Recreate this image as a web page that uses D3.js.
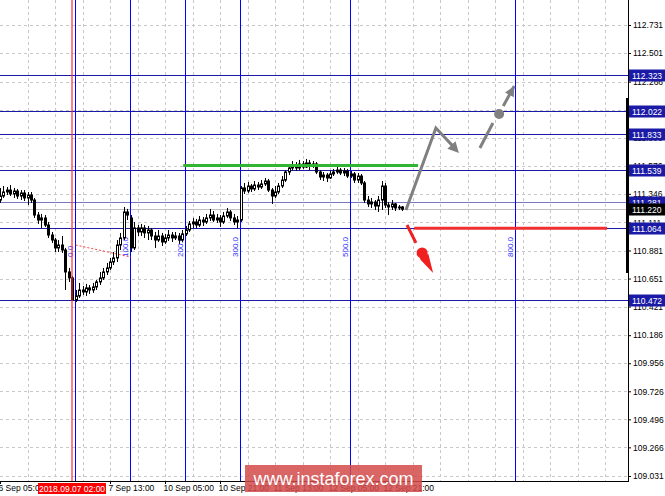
<!DOCTYPE html>
<html><head><meta charset="utf-8">
<script src="https://cdn.jsdelivr.net/npm/d3@7"></script>
<style>body{margin:0;background:#fff}svg{display:block}text{font-family:"Liberation Sans",Arial,sans-serif}</style>
</head><body><svg id="c" width="665" height="496"></svg>
<script>
// ---- data (USD/JPY H1) ----
const open = [111.295,111.328,111.361,111.377,111.345,111.369,111.328,111.353,111.312,111.336,
111.295,111.172,111.131,111.148,111.090,111.008,110.967,110.902,110.926,110.885,
110.705,110.656,110.475,110.508,110.557,110.541,110.574,110.557,110.582,110.623,
110.656,110.705,110.738,110.787,110.820,110.926,110.984,111.197,111.148,110.902,
111.066,111.033,111.066,111.025,111.049,111.000,110.967,111.000,110.951,110.984,
111.008,110.984,111.000,110.967,111.017,111.049,111.099,111.115,111.090,111.131,
111.115,111.148,111.172,111.131,111.148,111.115,111.164,111.197,111.148,111.115,
111.131,111.394,111.369,111.410,111.386,111.418,111.402,111.427,111.451,111.377,
111.328,111.361,111.410,111.459,111.525,111.558,111.583,111.558,111.591,111.566,
111.599,111.574,111.591,111.525,111.484,111.500,111.476,111.509,111.525,111.541,
111.517,111.533,111.492,111.509,111.459,111.492,111.435,111.295,111.263,111.279,
111.246,111.295,111.410,111.254,111.238,111.263,111.230,111.238];
const high = [111.394,111.410,111.402,111.418,111.394,111.386,111.377,111.377,111.361,111.361,
111.312,111.197,111.181,111.172,111.115,111.033,110.984,110.967,111.000,110.902,
110.738,110.672,110.557,110.615,110.590,110.607,110.598,110.615,110.639,110.705,
110.738,110.779,110.820,110.869,110.967,111.025,111.238,111.222,111.172,111.115,
111.090,111.099,111.090,111.082,111.066,111.033,111.049,111.025,111.017,111.049,
111.033,111.033,111.025,111.049,111.082,111.123,111.148,111.140,111.164,111.156,
111.181,111.222,111.205,111.181,111.172,111.197,111.230,111.213,111.181,111.164,
111.410,111.435,111.443,111.427,111.451,111.443,111.459,111.476,111.468,111.394,
111.410,111.435,111.492,111.541,111.591,111.615,111.607,111.624,111.615,111.632,
111.624,111.615,111.607,111.541,111.525,111.517,111.533,111.550,111.574,111.558,
111.558,111.550,111.533,111.525,111.517,111.509,111.451,111.328,111.312,111.295,
111.328,111.451,111.435,111.279,111.295,111.271,111.254,111.246];
const low = [111.271,111.312,111.336,111.328,111.312,111.304,111.295,111.287,111.254,111.271,
111.148,111.099,111.066,111.074,110.984,110.943,110.869,110.869,110.861,110.557,
110.623,110.467,110.459,110.492,110.516,110.508,110.525,110.533,110.557,110.598,
110.639,110.680,110.721,110.762,110.787,110.885,110.967,111.131,110.869,110.885,
111.000,111.000,110.984,110.967,110.967,110.902,110.951,110.918,110.935,110.959,
110.951,110.967,110.935,110.951,111.000,111.033,111.066,111.066,111.074,111.082,
111.099,111.123,111.115,111.107,111.074,111.099,111.148,111.123,111.090,111.066,
111.115,111.345,111.353,111.361,111.369,111.377,111.386,111.410,111.361,111.263,
111.312,111.345,111.394,111.443,111.500,111.541,111.533,111.541,111.550,111.558,
111.541,111.558,111.509,111.459,111.451,111.443,111.468,111.492,111.509,111.500,
111.492,111.476,111.476,111.435,111.435,111.418,111.271,111.238,111.230,111.213,
111.197,111.213,111.230,111.172,111.213,111.205,111.213,111.205];
const close = [111.328,111.361,111.377,111.345,111.369,111.328,111.353,111.312,111.336,111.295,
111.172,111.131,111.148,111.090,111.008,110.967,110.902,110.926,110.885,110.705,
110.656,110.475,110.508,110.557,110.541,110.574,110.557,110.582,110.623,110.656,
110.705,110.738,110.787,110.820,110.926,110.984,111.197,111.172,110.902,111.066,
111.033,111.066,111.025,111.049,111.000,110.967,111.000,110.951,110.984,111.008,
110.984,111.000,110.967,111.017,111.049,111.099,111.115,111.090,111.131,111.115,
111.148,111.172,111.131,111.148,111.115,111.164,111.197,111.148,111.115,111.131,
111.394,111.369,111.410,111.386,111.418,111.402,111.427,111.451,111.377,111.328,
111.361,111.410,111.459,111.525,111.558,111.583,111.558,111.591,111.566,111.599,
111.574,111.591,111.525,111.484,111.500,111.476,111.509,111.525,111.541,111.517,
111.533,111.492,111.509,111.459,111.492,111.435,111.295,111.263,111.279,111.246,
111.295,111.410,111.254,111.238,111.263,111.230,111.238,111.220];

const priceTicks = [112.731,112.501,112.266,112.036,111.806,111.576,111.346,111.111,110.881,
110.651,110.421,110.186,109.956,109.726,109.496,109.266,109.031];
const timeTickBars = [0,32,48,64,80,96,112];
const timeTickLabels = ["6 Sep 05:00","7 Sep 13:00","10 Sep 05:00","10 Sep 21:00","11 Sep 13:00","12 Sep 05:00","12 Sep 21:00"];
const markedBar = 21, markedLabel = "2018.09.07 02:00";
const levels = [112.323,112.022,111.833,111.539,111.064,110.472];
const pivotLevel = 111.281;
const bidLevel = 111.220;
const fibBars = [22,38,54,70,102,150];
const fibLabels = ["0.0","100.0","200.0","300.0","500.0","800.0"];
const fibBase = [[22,110.926],[38,110.828]];
const greenLevel = {value:111.578, from:53.3, to:121.6};
const redLevel = {value:111.064, from:120.5, to:176.6};
const grayPath = [[118.1,111.213],[126.8,111.886],[133.5,111.681]];
const grayDash1 = [[139.6,111.722],[143.4,111.927]];
const grayDot = [145.2,112.001];
const grayDash2 = [[146.4,112.066],[149.6,112.230]];
const redPath = [[118.4,111.090],[121.0,110.943]];
const redDot = [122.8,110.861];
const redTip = [126.0,110.697];
const watermark = "www.instaforex.com";

// ---- scales ----
const svg = d3.select("#c");
const plotR = 628, plotB = 481;
const x = d3.scaleLinear().domain([0,16]).range([0,55]);
const y = d3.scaleLinear().domain([109.031,112.731]).range([476,25]);
const navy = "#1a1aa6";

// grid
const g = svg.append("g");
g.selectAll(".vg").data(d3.range(8,183,8)).join("line")
  .attr("x1",d=>Math.round(x(d))+0.5).attr("x2",d=>Math.round(x(d))+0.5)
  .attr("y1",0).attr("y2",plotB).attr("stroke","#c8c8c8").attr("stroke-dasharray","3,3");
g.selectAll(".hg").data(priceTicks).join("line")
  .attr("x1",0).attr("x2",plotR).attr("y1",d=>Math.round(y(d))+0.5).attr("y2",d=>Math.round(y(d))+0.5)
  .attr("stroke","#c8c8c8").attr("stroke-dasharray","3,3");

// horizontal levels
svg.selectAll(".lv").data(levels).join("line")
  .attr("x1",0).attr("x2",plotR).attr("y1",d=>Math.round(y(d))+0.5).attr("y2",d=>Math.round(y(d))+0.5)
  .attr("stroke",navy).attr("stroke-width",1);
svg.append("line").attr("x1",0).attr("x2",plotR)
  .attr("y1",Math.round(y(pivotLevel))+0.5).attr("y2",Math.round(y(pivotLevel))+0.5)
  .attr("stroke","#7878c0");
svg.append("line").attr("x1",0).attr("x2",plotR)
  .attr("y1",Math.round(y(bidLevel))+0.5).attr("y2",Math.round(y(bidLevel))+0.5)
  .attr("stroke","#c0c0c0");

// fib time zones
svg.selectAll(".fl").data(fibBars).join("line")
  .attr("x1",d=>Math.round(x(d))-0.5).attr("x2",d=>Math.round(x(d))-0.5)
  .attr("y1",0).attr("y2",plotB).attr("stroke","#0000ff");
svg.selectAll(".ft").data(fibBars).join("text")
  .attr("transform",d=>`translate(${Math.round(x(d))-3},257) rotate(-90)`)
  .attr("font-size",8).attr("fill","#3030ff").text((d,i)=>fibLabels[i]);
svg.append("line").attr("x1",x(fibBase[0][0])).attr("y1",y(fibBase[0][1]))
  .attr("x2",x(fibBase[1][0])).attr("y2",y(fibBase[1][1]))
  .attr("stroke","#ff4040").attr("stroke-dasharray","2,2").attr("stroke-width",1);

// candles
const bars = close.map((c,i)=>({i,o:open[i],h:high[i],l:low[i],c}));
const cg = svg.append("g");
cg.selectAll(".w").data(bars).join("line")
  .attr("x1",d=>Math.round(x(d.i))+0.5).attr("x2",d=>Math.round(x(d.i))+0.5)
  .attr("y1",d=>y(d.h)).attr("y2",d=>y(d.l)).attr("stroke","#000");
cg.selectAll(".b").data(bars).join("rect")
  .attr("x",d=>Math.round(x(d.i))-0.5).attr("width",2)
  .attr("y",d=>Math.min(y(d.o),y(d.c))).attr("height",d=>Math.max(1,Math.abs(y(d.o)-y(d.c))))
  .attr("fill",d=>d.c>=d.o?"#fff":"#000").attr("stroke","#000").attr("stroke-width",1);

// marked vertical red line
svg.append("line").attr("x1",Math.round(x(markedBar))).attr("x2",Math.round(x(markedBar)))
  .attr("y1",0).attr("y2",plotB).attr("stroke","#ff3030").attr("stroke-width",2).attr("opacity",0.6);

// green & red levels
svg.append("line").attr("x1",x(greenLevel.from)).attr("x2",x(greenLevel.to))
  .attr("y1",y(greenLevel.value)).attr("y2",y(greenLevel.value))
  .attr("stroke","#32b432").attr("stroke-width",3);
svg.append("line").attr("x1",x(redLevel.from)).attr("x2",x(redLevel.to))
  .attr("y1",y(redLevel.value)).attr("y2",y(redLevel.value))
  .attr("stroke","#f03030").attr("stroke-width",3);

const line = d3.line().x(d=>x(d[0])).y(d=>y(d[1]));
function head(p0,p1,len,wid,col){
  const ax=x(p0[0]),ay=y(p0[1]),bx=x(p1[0]),by=y(p1[1]);
  const a=Math.atan2(by-ay,bx-ax);
  const px=-Math.sin(a),py=Math.cos(a);
  const cx=bx-Math.cos(a)*len, cy=by-Math.sin(a)*len;
  svg.append("path").attr("d",`M${bx},${by}L${cx+px*wid/2},${cy+py*wid/2}L${cx-px*wid/2},${cy-py*wid/2}Z`).attr("fill",col);
}
// gray arrows
svg.append("path").attr("d",line(grayPath.slice(0,2).concat([[grayPath[2][0]-1.2,grayPath[2][1]+0.04]]))).attr("fill","none")
  .attr("stroke","#808080").attr("stroke-width",3).attr("stroke-linejoin","miter");
head(grayPath[1],grayPath[2],11,11,"#808080");
svg.append("path").attr("d",line(grayDash1)).attr("stroke","#808080").attr("stroke-width",3);
svg.append("circle").attr("cx",x(grayDot[0])).attr("cy",y(grayDot[1])).attr("r",5).attr("fill","#808080");
svg.append("path").attr("d",line(grayDash2)).attr("stroke","#808080").attr("stroke-width",3);
head(grayDash2[0],grayDash2[1],10,10,"#808080");
// red arrow
svg.append("path").attr("d",line(redPath)).attr("stroke","#f02020").attr("stroke-width",3);
svg.append("circle").attr("cx",x(redDot[0])).attr("cy",y(redDot[1])).attr("r",5.5).attr("fill","#f02020");
head(redDot,redTip,19,10,"#f02020");

// right axis
svg.append("rect").attr("x",plotR).attr("y",0).attr("width",665-plotR).attr("height",496).attr("fill","#fff");
svg.append("rect").attr("x",0).attr("y",plotB).attr("width",665).attr("height",20).attr("fill","#fff");
const ax = svg.append("g").attr("transform",`translate(${plotR},0)`)
  .call(d3.axisRight(y).tickValues(priceTicks).tickFormat(d3.format(".3f")).tickSize(3).tickPadding(2));
ax.select(".domain").remove();
ax.selectAll("text").attr("font-size",8.5).attr("font-family","Liberation Sans, Arial").attr("fill","#000");
svg.append("line").attr("x1",plotR+0.5).attr("x2",plotR+0.5).attr("y1",0).attr("y2",plotB).attr("stroke","#000");
svg.append("rect").attr("x",plotR-2).attr("y",98).attr("width",3).attr("height",175).attr("fill","#000");

function tag(v,bg){
  const yy=Math.round(y(v))+0.5;
  svg.append("rect").attr("x",plotR+1).attr("y",yy-6).attr("width",665-plotR-1).attr("height",12).attr("fill",bg);
  svg.append("text").attr("x",plotR+4).attr("y",yy+3).attr("font-size",8.5).attr("fill","#fff").text(d3.format(".3f")(v));
}
levels.forEach(v=>tag(v,navy));
tag(pivotLevel,navy);
tag(bidLevel,"#000");

// bottom axis
svg.append("line").attr("x1",0).attr("x2",plotR+1).attr("y1",plotB+0.5).attr("y2",plotB+0.5).attr("stroke","#000");
const bx = svg.append("g").attr("transform",`translate(0,${plotB})`)
  .call(d3.axisBottom(x).tickValues(timeTickBars).tickFormat((d,i)=>timeTickLabels[i]).tickSize(3).tickPadding(1));
bx.select(".domain").remove();
bx.selectAll("text").attr("text-anchor","start").attr("dx",-2).attr("font-size",8.5).attr("font-family","Liberation Sans, Arial").attr("fill","#000");
const mx = Math.round(x(markedBar));
svg.append("rect").attr("x",mx-34).attr("y",plotB+2).attr("width",68).attr("height",11).attr("fill","#ff0000");
svg.append("text").attr("x",mx).attr("y",plotB+11).attr("text-anchor","middle").attr("font-size",8.5).attr("fill","#fff").text(markedLabel);

// watermark
svg.append("rect").attr("x",245).attr("y",465).attr("width",177).attr("height",27).attr("fill","#d24a4a").attr("opacity",0.85);
svg.append("text").attr("x",333.5).attr("y",484.5).attr("text-anchor","middle").attr("font-size",18).attr("fill","#fff").text(watermark);
</script></body></html>
